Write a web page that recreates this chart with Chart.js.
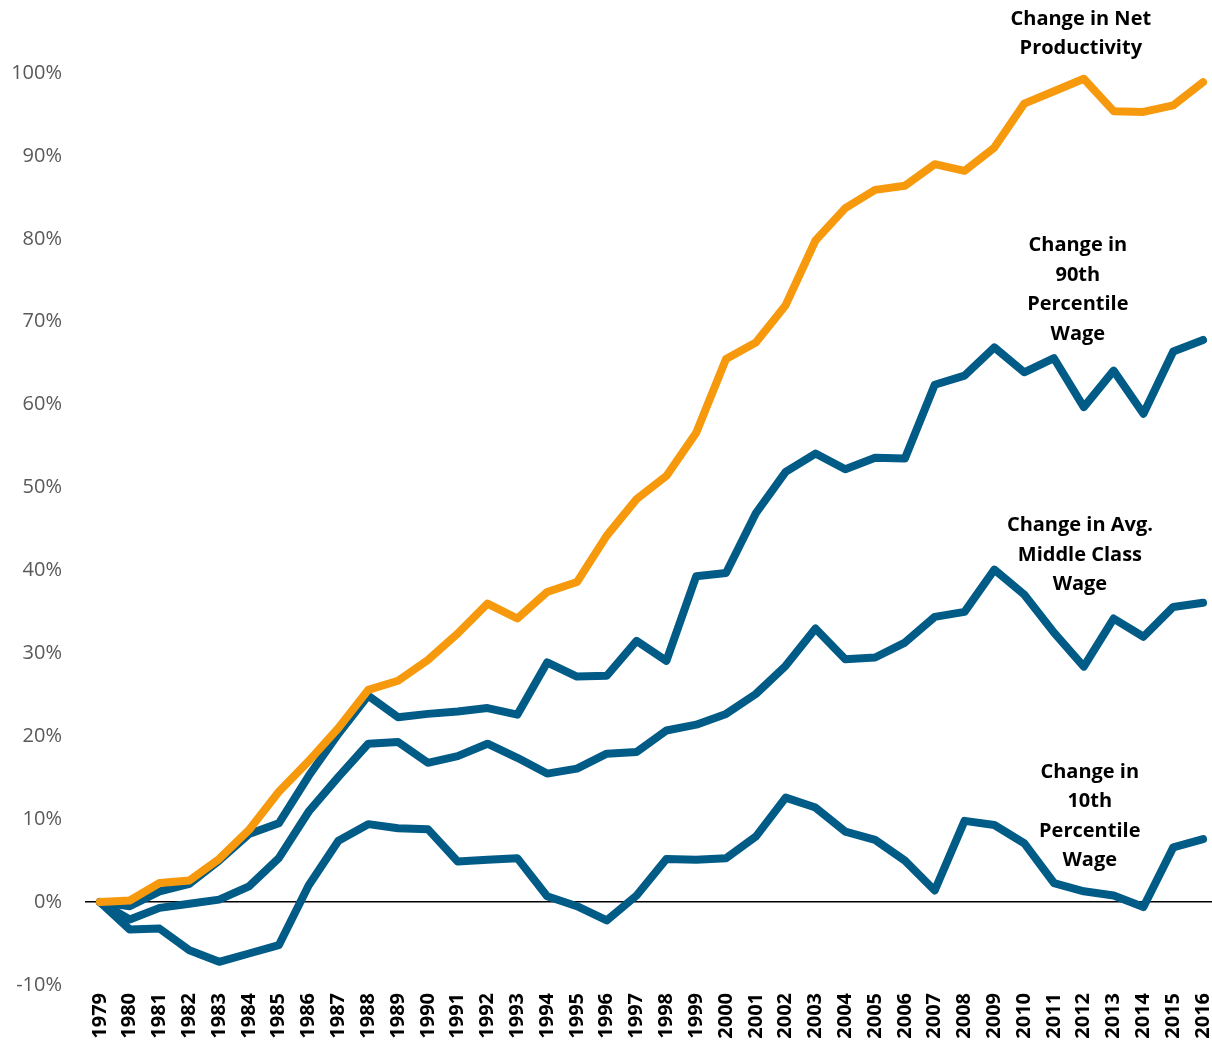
<!DOCTYPE html>
<html>
<head>
<meta charset="utf-8">
<script src="https://cdn.jsdelivr.net/npm/chart.js@4"></script>
<style>
  html, body { margin: 0; padding: 0; background: #fff; }
  #wrap { width: 1212px; height: 1042px; position: relative; }
</style>
</head>
<body>
<div id="wrap"><canvas id="myChart"></canvas></div>
<script>
// years on the x axis
var years = [1979, 1980, 1981, 1982, 1983, 1984, 1985, 1986, 1987, 1988, 1989, 1990,
  1991, 1992, 1993, 1994, 1995, 1996, 1997, 1998, 1999, 2000, 2001, 2002, 2003,
  2004, 2005, 2006, 2007, 2008, 2009, 2010, 2011, 2012, 2013, 2014, 2015, 2016];

// % change since 1979
var netProductivity = [0, 0.2, 2.3, 2.6, 5.2, 8.7, 13.3, 17, 21, 25.6, 26.7, 29.2,
  32.4, 36, 34.2, 37.4, 38.6, 44.2, 48.6, 51.4, 56.6, 65.5, 67.5, 72, 79.8,
  83.7, 85.9, 86.4, 89, 88.2, 91, 96.3, 97.8, 99.3, 95.4, 95.3, 96.1, 98.9];

var wage90th = [0, -0.5, 1.3, 2.2, 5, 8.2, 9.5, 15.2, 20.3, 24.9, 22.3, 22.7,
  23, 23.4, 22.6, 28.9, 27.2, 27.3, 31.5, 29.1, 39.3, 39.7, 46.9, 51.9, 54.1,
  52.2, 53.6, 53.5, 62.4, 63.5, 66.9, 63.9, 65.6, 59.7, 64.1, 58.9, 66.4, 67.8];

var wageMiddle = [0, -2.1, -0.7, -0.2, 0.3, 1.9, 5.3, 10.9, 15.1, 19.1, 19.3, 16.8,
  17.6, 19.1, 17.4, 15.5, 16.1, 17.9, 18.1, 20.7, 21.4, 22.7, 25.1, 28.5, 33,
  29.3, 29.5, 31.3, 34.4, 35, 40.1, 37.1, 32.5, 28.4, 34.2, 32, 35.6, 36.1];

var wage10th = [0, -3.3, -3.2, -5.8, -7.2, -6.2, -5.2, 2, 7.4, 9.4, 8.9, 8.8,
  4.9, 5.1, 5.3, 0.7, -0.5, -2.2, 0.8, 5.2, 5.1, 5.3, 7.9, 12.6, 11.4,
  8.5, 7.5, 5, 1.4, 9.8, 9.3, 7.1, 2.3, 1.3, 0.8, -0.6, 6.6, 7.6];

// y axis ticks
var yTicks = [-10, 0, 10, 20, 30, 40, 50, 60, 70, 80, 90, 100];

// text labels next to the lines
var labelLines = [
  ["Change in Net", "Productivity"],
  ["Change in", "90th", "Percentile", "Wage"],
  ["Change in Avg.", "Middle Class", "Wage"],
  ["Change in", "10th", "Percentile", "Wage"]
];
var labelYears = [2011.9, 2011.8, 2011.87, 2012.2];
var labelValues = [106.5, 79.2, 45.4, 15.7];

var orange = "#F7990C";
var blue = "#005B86";

function toPoints(arr) {
  return arr.map(function(v, i) { return { x: years[i], y: v }; });
}

function lineSet(label, arr, color) {
  return {
    label: label,
    data: toPoints(arr),
    borderColor: color,
    backgroundColor: color,
    borderWidth: 8,
    pointRadius: 0,
    borderJoinStyle: "round",
    borderCapStyle: "round",
    tension: 0
  };
}

// draws the line labels
var lineLabels = {
  id: "lineLabels",
  afterDraw: function(chart) {
    var ctx = chart.ctx;
    var xs = chart.scales.x, ys = chart.scales.y;
    ctx.save();
    ctx.fillStyle = "#000";
    ctx.font = "bold 20px 'Open Sans'";
    ctx.textAlign = "center";
    ctx.textBaseline = "middle";
    labelLines.forEach(function(lines, i) {
      var px = xs.getPixelForValue(labelYears[i]);
      var py = ys.getPixelForValue(labelValues[i]);
      lines.forEach(function(t, j) {
        ctx.fillText(t, px, py + j * 29.5);
      });
    });
    ctx.restore();
  }
};

var ctx = document.getElementById("myChart").getContext("2d");
var chart = new Chart(ctx, {
  type: "line",
  data: {
    datasets: [
      lineSet("Change in Net Productivity", netProductivity, orange),
      lineSet("Change in 90th Percentile Wage", wage90th, blue),
      lineSet("Change in Avg. Middle Class Wage", wageMiddle, blue),
      lineSet("Change in 10th Percentile Wage", wage10th, blue)
    ]
  },
  options: {
    responsive: true,
    maintainAspectRatio: false,
    animation: false,
    layout: { padding: { top: 73, left: 10, right: 0, bottom: 0 } },
    plugins: {
      legend: { display: false },
      tooltip: { enabled: false }
    },
    scales: {
      x: {
        type: "linear",
        min: 1978.5,
        max: 2016.3,
        afterBuildTicks: function(axis) {
          axis.ticks = years.map(function(y) { return { value: y }; });
        },
        afterFit: function(axis) {
          axis.height = 57;
          axis.paddingLeft = 0;
          axis.paddingRight = 0;
        },
        grid: { display: false },
        border: { display: false },
        ticks: {
          autoSkip: false,
          maxRotation: 90,
          minRotation: 90,
          padding: 0,
          color: "#000",
          font: { family: "'Open Sans'", size: 20, weight: "bold" },
          callback: function(v) { return String(v); }
        }
      },
      y: {
        min: -10,
        max: 100,
        afterBuildTicks: function(axis) {
          axis.ticks = yTicks.map(function(v) { return { value: v }; });
        },
        afterFit: function(axis) {
          axis.width = 75;
          axis.paddingTop = 0;
          axis.paddingBottom = 0;
        },
        grid: {
          drawTicks: false,
          lineWidth: 1.5,
          color: function(c) { return c.tick && c.tick.value === 0 ? "#000" : "rgba(0,0,0,0)"; }
        },
        border: { display: false },
        ticks: {
          padding: 23,
          color: "#595959",
          font: { family: "'Open Sans'", size: 20 },
          callback: function(v) { return v + "%"; }
        }
      }
    }
  },
  plugins: [lineLabels]
});
</script>
</body>
</html>
